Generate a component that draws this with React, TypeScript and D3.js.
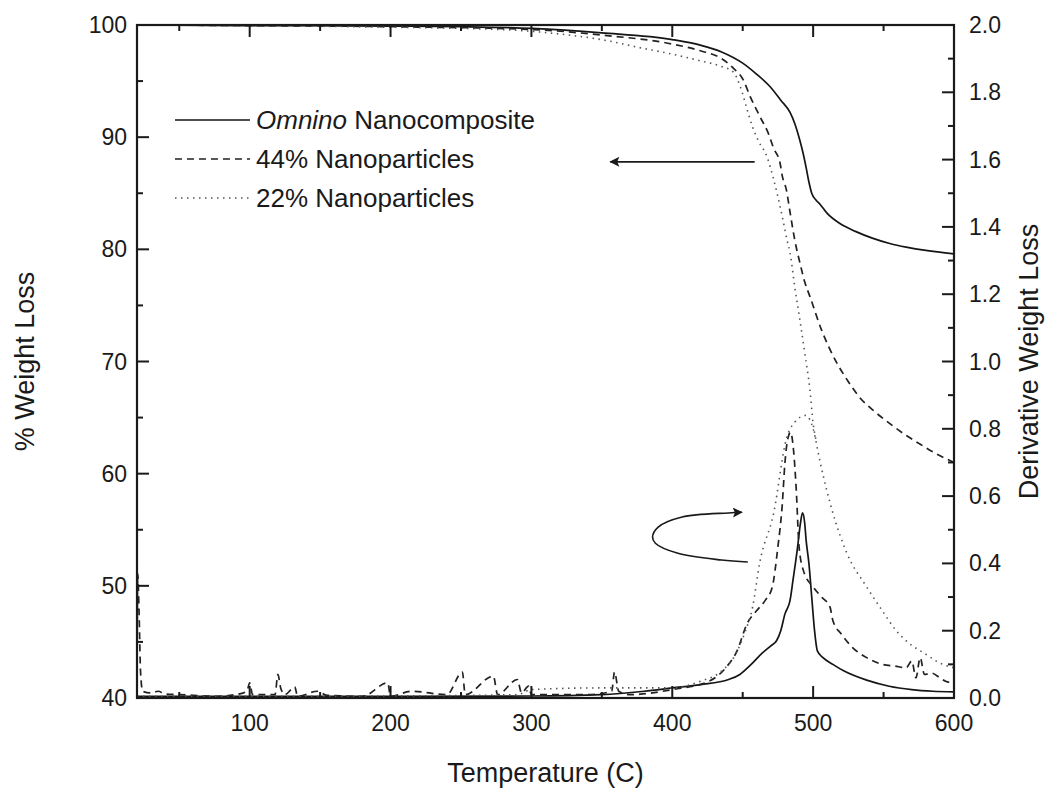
import React from 'react';
import * as d3 from 'd3';

const W = 1052;
const H = 796;
const PLOT = { left: 137, right: 954, top: 25, bottom: 698 };

// axis ticks
const xMajor = [100, 200, 300, 400, 500, 600];
const xMinor = [50, 150, 250, 350, 450, 550];
const yLeftMajor = [40, 50, 60, 70, 80, 90, 100];
const yLeftMinor = [45, 55, 65, 75, 85, 95];
const yRightMajor = [0, 0.2, 0.4, 0.6, 0.8, 1.0, 1.2, 1.4, 1.6, 1.8, 2.0];
const yRightMinor = [0.1, 0.3, 0.5, 0.7, 0.9, 1.1, 1.3, 1.5, 1.7, 1.9];

const legendLabels = ['Nanocomposite', '44% Nanoparticles', '22% Nanoparticles'];

// Weight (TG) curves: [temperature C, % weight]
const omninoTG: [number, number][] = [
  [20, 100], [100, 99.95], [200, 99.9], [250, 99.85], [300, 99.7], [350, 99.3], [400, 98.7],
  [420, 98.2], [435, 97.6], [450, 96.6], [460, 95.6], [469.5, 94.5], [477, 93.3], [483.6, 92.2],
  [487, 91.2], [490.6, 89.7], [493, 88.5], [495, 87.3], [497, 86.0], [499, 85.0], [502, 84.4],
  [505, 84.0], [510, 83.2], [519, 82.3], [530, 81.6], [542, 81.0], [555, 80.5], [566, 80.2],
  [580, 79.9], [600, 79.6],
];
const np44TG: [number, number][] = [
  [20, 100], [100, 99.95], [200, 99.85], [300, 99.6], [350, 99.1], [400, 98.3], [420, 97.7],
  [435, 97.0], [443, 96.2], [450.4, 95.1], [455.4, 93.6], [462.4, 91.8], [468, 90.4], [472, 89.0],
  [476.5, 87.7], [478, 86.6], [481, 85.3], [484, 83.0], [487, 80.8], [490.6, 78.8], [494, 77.1],
  [497.7, 75.8], [506, 72.8], [516.7, 69.9], [525, 68.2], [533, 66.8], [544, 65.5], [554, 64.5],
  [565, 63.5], [575, 62.7], [587, 61.8], [600, 61.0],
];
const np22TG: [number, number][] = [
  [20, 100], [100, 99.95], [200, 99.8], [250, 99.7], [293, 99.5], [320, 99.2], [349.5, 98.7],
  [380, 97.9], [400, 97.4], [420, 96.8], [435, 96.3], [443.4, 95.8], [448.3, 94.5], [453.3, 92.4],
  [457, 90.9], [461, 89.7], [467.4, 88.2], [471.6, 86.4], [474.4, 85.0], [478.6, 82.6],
  [481.5, 80.8], [483.6, 79.7], [487, 76.6], [490.6, 73.7], [494, 70.8], [497.7, 67.5],
  [500, 64.5], [502, 63.0],
];

// Derivative curves: [temperature C, derivative weight loss]
const omninoDTG: [number, number][] = [
  [20, 0.005], [100, 0.005], [200, 0.005], [300, 0.006], [350, 0.01], [380, 0.02], [400, 0.03],
  [420, 0.04], [440, 0.055], [448, 0.07], [456, 0.1], [464, 0.134], [470, 0.155], [474, 0.17],
  [477, 0.2], [480, 0.25], [483.6, 0.29], [485.7, 0.35], [489, 0.45], [491, 0.52], [492.5, 0.55],
  [494, 0.52], [495, 0.47], [497, 0.4], [499, 0.3], [501, 0.2], [503, 0.14], [507, 0.12],
  [514, 0.1], [522, 0.08], [538, 0.053], [554, 0.035], [570, 0.025], [585, 0.02], [600, 0.018],
];
const np44DTG: [number, number][] = [
  [20, 0.01], [20.5, 0.37], [21.5, 0.25], [22.5, 0.08], [24, 0.02], [30, 0.015], [35, 0.02],
  [40, 0.012], [50, 0.01], [60, 0.008], [75, 0.005], [90, 0.01], [98, 0.02], [100, 0.045],
  [102, 0.01], [118, 0.01], [120, 0.07], [122, 0.03], [125, 0.01], [132, 0.033], [134, 0.005],
  [148, 0.02], [155, 0.008], [180, 0.005], [198, 0.045], [200, 0.005], [215, 0.02], [240, 0.01],
  [251, 0.077], [253, 0.01], [273, 0.065], [276, 0.01], [290, 0.055], [293, 0.015], [298, 0.035],
  [300, 0.01], [340, 0.01], [357, 0.02], [359, 0.077], [362, 0.02], [370, 0.01], [400, 0.025],
  [425, 0.048], [438, 0.09], [446, 0.14], [453, 0.22], [460, 0.26], [466, 0.29], [471, 0.33],
  [475, 0.45], [478, 0.57], [480, 0.7], [482, 0.77], [484, 0.79], [486, 0.74], [488, 0.62],
  [490, 0.45], [493, 0.38], [500, 0.33], [506, 0.3], [512, 0.27], [514, 0.23], [520, 0.19],
  [528, 0.15], [538, 0.12], [549, 0.1], [558, 0.095], [566, 0.09], [570, 0.11], [573, 0.06],
  [576, 0.12], [579, 0.07], [584, 0.074], [590, 0.06], [594, 0.05], [600, 0.045],
];
const np22DTG: [number, number][] = [
  [20, 0.005], [100, 0.005], [200, 0.006], [290, 0.01], [300, 0.025], [350, 0.03], [400, 0.03],
  [420, 0.05], [435, 0.08], [445, 0.13], [452, 0.2], [457, 0.27], [462, 0.4], [472, 0.55],
  [481, 0.77], [487, 0.82], [495, 0.84], [500, 0.8], [505, 0.7], [514, 0.55], [524, 0.43],
  [538, 0.33], [549, 0.26], [559, 0.2], [566, 0.17], [580, 0.13], [592, 0.1], [600, 0.09],
];

// annotation arrows (data space)
const tgArrow: [number, number][] = [[458.5, 87.8], [356, 87.8]];
const dtgArrow: [number, number][] = [
  [453.6, 0.404], [435, 0.41], [404, 0.43], [388, 0.46], [386, 0.479], [390, 0.508],
  [407, 0.538], [440, 0.55], [449.4, 0.552],
];

const FONT = "Arial, 'Liberation Sans', Helvetica, sans-serif";

export default function App() {
  const x = d3.scaleLinear().domain([20, 600]).range([PLOT.left, PLOT.right]);
  const yL = d3.scaleLinear().domain([40, 100]).range([PLOT.bottom, PLOT.top]);
  const yR = d3.scaleLinear().domain([0, 2]).range([PLOT.bottom, PLOT.top]);

  const tgLine = d3.line<[number, number]>().x(d => x(d[0])).y(d => yL(d[1])).curve(d3.curveMonotoneX);
  const dtgLine = d3.line<[number, number]>().x(d => x(d[0])).y(d => yR(d[1])).curve(d3.curveMonotoneX);
  const arrowTG = d3.line<[number, number]>().x(d => x(d[0])).y(d => yL(d[1]));
  const arrowDTG = d3.line<[number, number]>().x(d => x(d[0])).y(d => yR(d[1])).curve(d3.curveCatmullRom);

  const ink = '#1a1a1a';
  const solid = { stroke: '#151515', strokeWidth: 1.7, fill: 'none' };
  const dashed = { stroke: '#222', strokeWidth: 1.7, fill: 'none', strokeDasharray: '7,5' };
  const dotted = { stroke: '#555', strokeWidth: 1.6, fill: 'none', strokeDasharray: '1.5,4.5' };

  const legendY = [120, 159, 198];
  const legendStyles = [solid, dashed, dotted];

  return (
    <svg width={W} height={H} style={{ position: 'absolute', left: 0, top: 0, background: '#fff' }}
      fontFamily={FONT}>
      <defs>
        <marker id="ah" viewBox="0 0 10 10" refX="9" refY="5" markerWidth="9" markerHeight="7"
          markerUnits="userSpaceOnUse" orient="auto">
          <path d="M0,0 L10,5 L0,10 L2,5 Z" fill={ink} />
        </marker>
        <marker id="ah2" viewBox="0 0 10 10" refX="9" refY="5" markerWidth="18" markerHeight="10"
          markerUnits="userSpaceOnUse" orient="auto">
          <path d="M0,0 L10,5 L0,10 L2,5 Z" fill={ink} />
        </marker>
      </defs>

      {/* curves */}
      <path d={tgLine(omninoTG) || ''} {...solid} />
      <path d={tgLine(np44TG) || ''} {...dashed} />
      <path d={tgLine(np22TG) || ''} {...dotted} />
      <path d={dtgLine(omninoDTG) || ''} {...solid} />
      <path d={dtgLine(np44DTG) || ''} {...dashed} />
      <path d={dtgLine(np22DTG) || ''} {...dotted} />

      {/* arrows */}
      <path d={arrowTG(tgArrow) || ''} stroke={ink} strokeWidth={1.6} fill="none" markerEnd="url(#ah2)" />
      <path d={arrowDTG(dtgArrow) || ''} stroke={ink} strokeWidth={1.6} fill="none" markerEnd="url(#ah2)" />

      {/* frame */}
      <rect x={PLOT.left} y={PLOT.top} width={PLOT.right - PLOT.left} height={PLOT.bottom - PLOT.top}
        fill="none" stroke={ink} strokeWidth={2.2} />

      {/* bottom & top ticks */}
      {xMajor.map(t => (
        <g key={'xm' + t}>
          <line x1={x(t)} x2={x(t)} y1={PLOT.bottom} y2={PLOT.bottom - 12} stroke={ink} strokeWidth={2} />
          <line x1={x(t)} x2={x(t)} y1={PLOT.top} y2={PLOT.top + 12} stroke={ink} strokeWidth={2} />
          <text x={x(t)} y={PLOT.bottom + 33} textAnchor="middle" fontSize={23} fill={ink}>{t}</text>
        </g>
      ))}
      {xMinor.map(t => (
        <g key={'xn' + t}>
          <line x1={x(t)} x2={x(t)} y1={PLOT.bottom} y2={PLOT.bottom - 6} stroke={ink} strokeWidth={2} />
          <line x1={x(t)} x2={x(t)} y1={PLOT.top} y2={PLOT.top + 6} stroke={ink} strokeWidth={2} />
        </g>
      ))}

      {/* left ticks */}
      {yLeftMajor.map(v => (
        <g key={'yl' + v}>
          <line x1={PLOT.left} x2={PLOT.left + 12} y1={yL(v)} y2={yL(v)} stroke={ink} strokeWidth={2} />
          <text x={PLOT.left - 10} y={yL(v) + 8} textAnchor="end" fontSize={23} fill={ink}>{v}</text>
        </g>
      ))}
      {yLeftMinor.map(v => (
        <line key={'yln' + v} x1={PLOT.left} x2={PLOT.left + 6} y1={yL(v)} y2={yL(v)} stroke={ink} strokeWidth={2} />
      ))}

      {/* right ticks */}
      {yRightMajor.map(v => (
        <g key={'yr' + v}>
          <line x1={PLOT.right} x2={PLOT.right - 12} y1={yR(v)} y2={yR(v)} stroke={ink} strokeWidth={2} />
          <text x={PLOT.right + 15} y={yR(v) + 8} textAnchor="start" fontSize={23} fill={ink}>{v.toFixed(1)}</text>
        </g>
      ))}
      {yRightMinor.map(v => (
        <line key={'yrn' + v} x1={PLOT.right} x2={PLOT.right - 6} y1={yR(v)} y2={yR(v)} stroke={ink} strokeWidth={2} />
      ))}

      {/* axis titles */}
      <text x={(PLOT.left + PLOT.right) / 2} y={782} textAnchor="middle" fontSize={27} fill={ink}>Temperature (C)</text>
      <text transform={`translate(34,${(PLOT.top + PLOT.bottom) / 2}) rotate(-90)`} textAnchor="middle"
        fontSize={27} fill={ink}>% Weight Loss</text>
      <text transform={`translate(1038,${(PLOT.top + PLOT.bottom) / 2}) rotate(-90)`} textAnchor="middle"
        fontSize={27} fill={ink}>Derivative Weight Loss</text>

      {/* legend */}
      {legendLabels.map((lab, i) => (
        <g key={'lg' + i}>
          <line x1={175} x2={250} y1={legendY[i]} y2={legendY[i]} {...legendStyles[i]} />
          <text x={256} y={legendY[i] + 9} fontSize={26} fill={ink}>
            {i === 0 ? <><tspan fontStyle="italic">Omnino</tspan> {lab}</> : lab}
          </text>
        </g>
      ))}
    </svg>
  );
}
